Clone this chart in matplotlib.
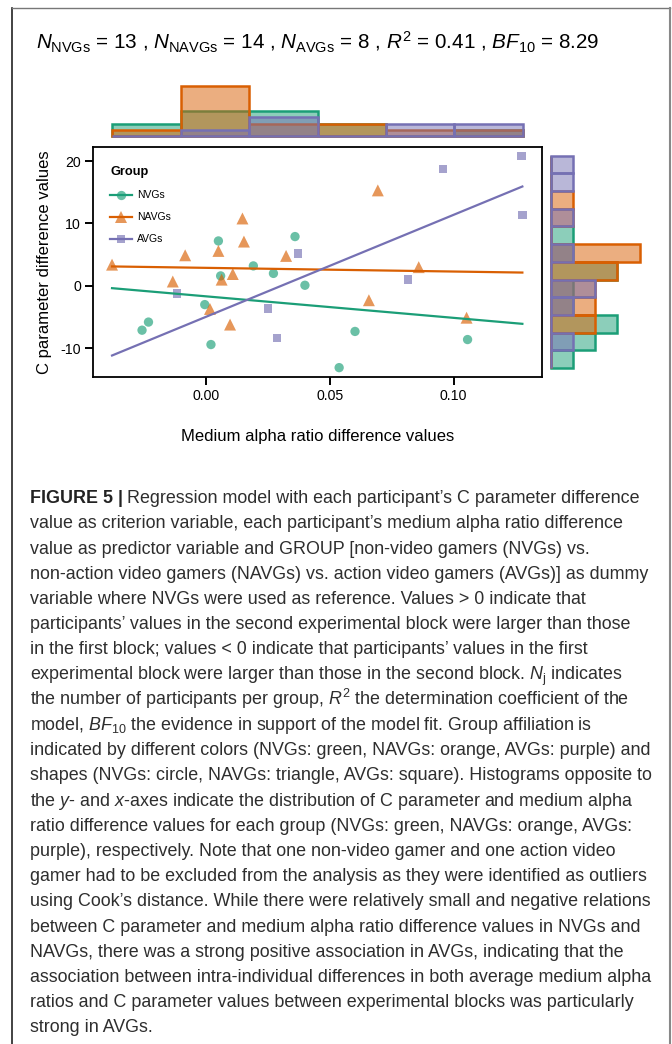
import numpy as np
import matplotlib
matplotlib.use('Agg')
import matplotlib.pyplot as plt
from matplotlib.lines import Line2D
from matplotlib.colors import to_rgba

plt.rcParams['font.family'] = ['Liberation Sans', 'DejaVu Sans']
plt.rcParams['mathtext.fontset'] = 'custom'
plt.rcParams['mathtext.rm'] = 'Liberation Sans'
plt.rcParams['mathtext.it'] = 'Liberation Sans:italic'
plt.rcParams['mathtext.bf'] = 'Liberation Sans:bold'
plt.rcParams['axes.unicode_minus'] = False

# data
groups = ['NVGs', 'NAVGs', 'AVGs']
nvg_x = [0.0051, 0.0360, 0.0192, 0.0273, 0.0060, 0.0400, -0.0004, -0.0231, -0.0257, 0.0021, 0.0538, 0.0602, 0.1056]
nvg_y = [7.2, 7.9, 3.2, 2.0, 1.6, 0.1, -3.0, -5.8, -7.1, -9.4, -13.1, -7.3, -8.6]
navg_x = [-0.0378, -0.0133, -0.0083, 0.0148, 0.0154, 0.0051, 0.0064, 0.0109, 0.0324, 0.0017, 0.0098, 0.0694, 0.0859, 0.0658, 0.1052]
navg_y = [3.4, 0.7, 4.9, 10.8, 7.1, 5.6, 1.0, 1.9, 4.8, -3.7, -6.2, 15.3, 3.0, -2.3, -5.1]
avg_x = [-0.0117, 0.0373, 0.0252, 0.0288, 0.0958, 0.1273, 0.1277, 0.0816]
avg_y = [-1.2, 5.2, -3.6, -8.3, 18.7, 20.8, 11.4, 1.0]

# marginal histogram counts (top: 6 bins left->right, right: 12 bins bottom->top)
top_counts = [
	[2, 4, 4, 2, 0, 1],   # NVGs
	[1, 8, 2, 2, 1, 1],   # NAVGs
	[0, 1, 3, 0, 2, 2],   # AVGs
]
right_counts = [
	[1, 2, 3, 1, 1, 3, 1, 1, 0, 0, 0, 0],
	[0, 0, 2, 2, 2, 3, 4, 0, 1, 1, 0, 0],
	[0, 1, 0, 1, 2, 0, 1, 0, 1, 0, 1, 1],
]

title_txt = (r'$N_{\mathrm{NVGs}}$ = 13 , $N_{\mathrm{NAVGs}}$ = 14 , $N_{\mathrm{AVGs}}$ = 8 , '
             r'$R^{2}$ = 0.41 , $BF_{10}$ = 8.29')

colors = ['#1b9e77', '#d95f02', '#7570b3']
markers = ['o', '^', 's']
msize = [45, 74, 36]
xs = [np.array(nvg_x), np.array(navg_x), np.array(avg_x)]
ys = [np.array(nvg_y), np.array(navg_y), np.array(avg_y)]

W, H = 672, 1044
def box(l, t, r, b):
	return [l/W, 1-b/H, (r-l)/W, (b-t)/H]

fig = plt.figure(figsize=(W/100, H/100), dpi=100)

xlim = (-0.0456, 0.1355)
ylim = (-14.6, 22.3)

ax = fig.add_axes(box(92.7, 146.7, 541.7, 377))
all_x = np.concatenate(xs)
xline = np.array([all_x.min(), all_x.max()])
for gx, gy, c, m, s in zip(xs, ys, colors, markers, msize):
	ax.scatter(gx, gy, s=s, marker=m, color=to_rgba(c, 0.65), edgecolors='none', zorder=2)
for gx, gy, c in zip(xs, ys, colors):
	slope, icpt = np.polyfit(gx, gy, 1)
	ax.plot(xline, icpt + slope*xline, color=c, lw=1.6, zorder=3)
ax.set_xlim(xlim)
ax.set_ylim(ylim)
ax.set_xticks([0, 0.05, 0.10])
ax.set_xticklabels(['0.00', '0.05', '0.10'])
ax.set_yticks([-10, 0, 10, 20])
ax.tick_params(length=5.5, width=1.4, labelsize=10.2, colors='black', pad=3)
for sp in ax.spines.values():
	sp.set_linewidth(1.3)
ax.set_xlabel('Medium alpha ratio difference values', fontsize=12, labelpad=19)
ax.set_ylabel('C parameter difference values', fontsize=12, labelpad=6)

handles = [Line2D([], [], color=c, lw=1.6, marker=m, markersize=ms,
				  markerfacecolor=to_rgba(c, 0.65), markeredgewidth=0)
		   for c, m, ms in zip(colors, markers, [6.7, 8.6, 6.0])]
leg = ax.legend(handles, groups, title='Group', loc='upper left', frameon=False,
				bbox_to_anchor=(0.027, 0.94), borderpad=0, fontsize=7.5,
				title_fontproperties={'weight': 'bold', 'size': 9.2},
				handlelength=2.1, labelspacing=1.15, handletextpad=0.5)
leg._legend_box.align = 'left'
leg._legend_box.sep = 9

# marginal histograms
ax_top = fig.add_axes(box(112.3, 136.2-9*6.3, 522.9, 136.2))
ax_right = fig.add_axes(box(550.7, 155.7, 550.7+5*22.2, 368))
for cx, cy, c in zip(top_counts, right_counts, colors):
	bt = ax_top.bar(np.arange(len(cx)), cx, width=1, align='edge',
					facecolor=to_rgba(c, 0.5), edgecolor=c, linewidth=1.8)
	br = ax_right.barh(np.arange(len(cy)), cy, height=1, align='edge',
					   facecolor=to_rgba(c, 0.5), edgecolor=c, linewidth=1.8)
	for p in list(bt) + list(br):
		p.set_clip_on(False)
ax_top.set_xlim(0, 6)
ax_top.set_ylim(0, 9)
ax_top.axis('off')
ax_right.set_ylim(0, 12)
ax_right.set_xlim(0, 5)
ax_right.axis('off')

fig.text(36/W, 1-42/H, title_txt, fontsize=14.9, va='center', ha='left')

# caption
caption = [
	None,
	"value as criterion variable, each participant\u2019s medium alpha ratio difference",
	"value as predictor variable and GROUP [non-video gamers (NVGs) vs.",
	"non-action video gamers (NAVGs) vs. action video gamers (AVGs)] as dummy",
	"variable where NVGs were used as reference. Values > 0 indicate that",
	"participants\u2019 values in the second experimental block were larger than those",
	"in the first block; values < 0 indicate that participants\u2019 values in the first",
	r"experimental block were larger than those in the second block. $N_{\mathrm{j}}$ indicates",
	r"the number of participants per group, $R^{2}$ the determination coefficient of the",
	r"model, $BF_{10}$ the evidence in support of the model fit. Group affiliation is",
	"indicated by different colors (NVGs: green, NAVGs: orange, AVGs: purple) and",
	"shapes (NVGs: circle, NAVGs: triangle, AVGs: square). Histograms opposite to",
	r"the $y$- and $x$-axes indicate the distribution of C parameter and medium alpha",
	"ratio difference values for each group (NVGs: green, NAVGs: orange, AVGs:",
	"purple), respectively. Note that one non-video gamer and one action video",
	"gamer had to be excluded from the analysis as they were identified as outliers",
	"using Cook\u2019s distance. While there were relatively small and negative relations",
	"between C parameter and medium alpha ratio difference values in NVGs and",
	"NAVGs, there was a strong positive association in AVGs, indicating that the",
	"association between intra-individual differences in both average medium alpha",
	"ratios and C parameter values between experimental blocks was particularly",
	"strong in AVGs.",
]
cap_fs = 12.9
cap_col = '#2e2e2e'
y0 = 497 + 6.3   # baseline of first line
r = fig.canvas.get_renderer()
for i, line in enumerate(caption):
	yy = 1 - (y0 + i*25.2)/H
	if line is None:
		t = fig.text(30/W, yy, 'FIGURE 5 |', fontsize=cap_fs, weight='bold', color='#222222', va='baseline')
		bb = t.get_window_extent(renderer=r)
		fig.text(bb.x1/W + 4/W, yy, "Regression model with each participant\u2019s C parameter difference",
				 fontsize=cap_fs, color=cap_col, va='baseline')
	else:
		fig.text(30/W, yy, line, fontsize=cap_fs, color=cap_col, va='baseline')

# frame around figure and caption
fig.add_artist(Line2D([12.3/W, 12.3/W], [0, 1-8/H], color='#222222', lw=1.2))
fig.add_artist(Line2D([12.3/W, 670/W], [1-8/H, 1-8/H], color='#777777', lw=1.0))
fig.add_artist(Line2D([670/W, 670/W], [0, 1-8/H], color='#888888', lw=1.5))

fig.savefig('out.png', dpi=100)
